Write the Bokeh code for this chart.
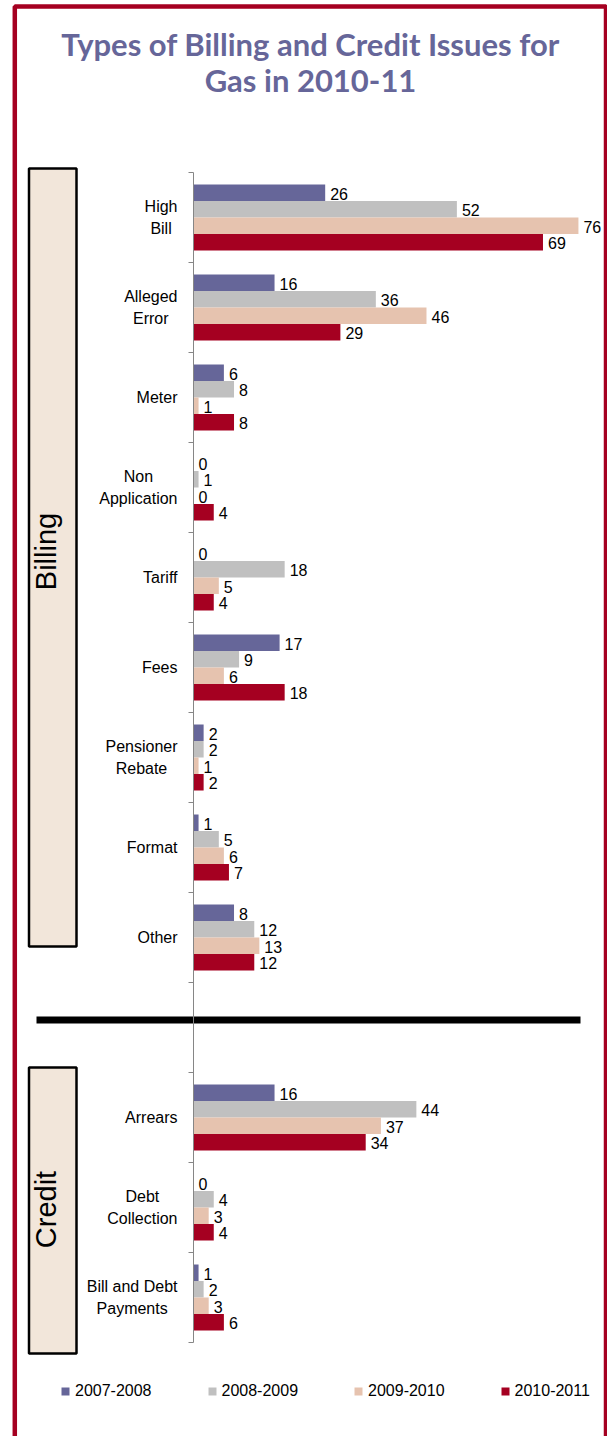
import math
from bokeh.plotting import figure
from bokeh.models import Range1d, LinearAxis, FixedTicker, Legend, LegendItem, ColumnDataSource
from bokeh.core.properties import value
from bokeh.embed import file_html
from bokeh.resources import INLINE

# ---------------- data ----------------
categories = ["High\nBill", "Alleged\nError", "Meter", "Non\nApplication", "Tariff",
              "Fees", "Pensioner\nRebate", "Format", "Other",
              "Arrears", "Debt\nCollection", "Bill and Debt\nPayments"]
groups = ["Billing"] * 9 + ["Credit"] * 3
series_names = ["2007-2008", "2008-2009", "2009-2010", "2010-2011"]
v2007_08 = [26, 16, 6, 0, 0, 17, 2, 1, 8, 16, 0, 1]
v2008_09 = [52, 36, 8, 1, 18, 9, 2, 5, 12, 44, 4, 2]
v2009_10 = [76, 46, 1, 0, 5, 6, 1, 6, 13, 37, 3, 3]
v2010_11 = [69, 29, 8, 4, 4, 18, 2, 7, 12, 34, 4, 6]
title_lines = ["Types of Billing and Credit Issues for", "Gas in 2010-11"]

series = [v2007_08, v2008_09, v2009_10, v2010_11]
colors = ["#666699", "#C0C0C0", "#E6C3AF", "#A50021"]

# ---------------- layout helpers ----------------
W, H = 607, 1436
AXIS_X = 193.0       # pixel position of value 0
PX_PER_UNIT = 5.065  # pixels per value unit
TOP = 172.0          # pixel of first category boundary
SLOT = 90.0          # pixels per category slot


def px2x(px):
    return (px - AXIS_X) / PX_PER_UNIT


def px2y(py):
    return (py - TOP) / SLOT


# slot index: billing 0..8, an empty slot, credit 10..12
slots = []
prev = None
s = 0
for g in groups:
    if prev is not None and g != prev:
        s += 1
    slots.append(s)
    s += 1
    prev = g
n_slots = s
centers = [k + 0.5 for k in slots]

p = figure(width=W, height=H, output_backend="svg", toolbar_location=None,
           x_range=Range1d(px2x(0), px2x(W)),
           y_range=Range1d(px2y(H), px2y(0)),
           x_axis_location=None, y_axis_location=None,
           min_border=0, min_border_left=0, min_border_right=0,
           min_border_top=0, min_border_bottom=0,
           outline_line_color=None, background_fill_color="white",
           border_fill_color="white")
p.grid.visible = False

# red frame
p.quad(left=[px2x(14.3)], right=[px2x(605.5)], top=[px2y(6)], bottom=[px2y(1500)],
       fill_color=None, line_color="#A50021", line_width=4.5)

# group boxes
p.quad(left=[px2x(28.5), px2x(28.5)], right=[px2x(76), px2x(76)],
       top=[px2y(168), px2y(1067)], bottom=[px2y(946), px2y(1353)],
       fill_color="#F2E6DA", line_color="black", line_width=2.5)
p.text(x=[px2x(45), px2x(45)], y=[px2y(551), px2y(1209)], text=["Billing", "Credit"],
       angle=math.pi / 2, text_align="center", text_baseline="middle",
       text_font=value("Liberation Sans"), text_font_size="29px", text_color="black")

# title
p.text(x=[px2x(310), px2x(310)], y=[px2y(43), px2y(79)], text=title_lines,
       text_align="center", text_baseline="middle",
       text_font=value("Lato"), text_font_style="bold", text_font_size="31px",
       text_color="#666699")

# separator
p.segment(x0=[px2x(36)], x1=[px2x(580)], y0=[px2y(1019.5)], y1=[px2y(1019.5)],
          line_color="black", line_width=7)

# bars
offsets = [-0.275, -0.0917, 0.0917, 0.275]
renderers = []
for vals, col, off in zip(series, colors, offsets):
    src = ColumnDataSource(dict(y=[c + off for c in centers], v=vals,
                                lab=[str(v) for v in vals]))
    r = p.hbar(y="y", left=0, right="v", height=0.1833, source=src,
               fill_color=col, line_color=None)
    renderers.append(r)
    p.text(x="v", y="y", text="lab", source=src, x_offset=5, y_offset=1,
           text_align="left", text_baseline="middle",
           text_font=value("Liberation Sans"), text_font_size="16px",
           text_color="black")

# category labels (block anchored right, lines centred)
p.text(x=[0] * len(categories), y=centers, text=categories, x_offset=-16,
       anchor="center_right", text_align="center", text_baseline="middle",
       text_line_height=1.3,
       text_font=value("Liberation Sans"), text_font_size="16px", text_color="black")

# axis with ticks at category boundaries
ax = LinearAxis(fixed_location=0, ticker=FixedTicker(ticks=list(range(n_slots + 1))),
                bounds=(0, n_slots), major_tick_out=5, major_tick_in=0,
                minor_tick_out=0, minor_tick_in=0,
                major_label_overrides={i: "" for i in range(n_slots + 1)},
                axis_line_color="#868686", major_tick_line_color="#868686")
p.add_layout(ax, "left")

# legend
legend = Legend(items=[LegendItem(label=n, renderers=[r]) for n, r in zip(series_names, renderers)],
                orientation="horizontal", location=(60, 36),
                glyph_width=10, glyph_height=10, label_standoff=5, spacing=55,
                padding=0, margin=0, border_line_color=None, background_fill_alpha=0,
                label_text_font="Liberation Sans", label_text_font_size="16px",
                label_text_color="black")
p.add_layout(legend)

open("out.html", "w").write(file_html(p, INLINE))
